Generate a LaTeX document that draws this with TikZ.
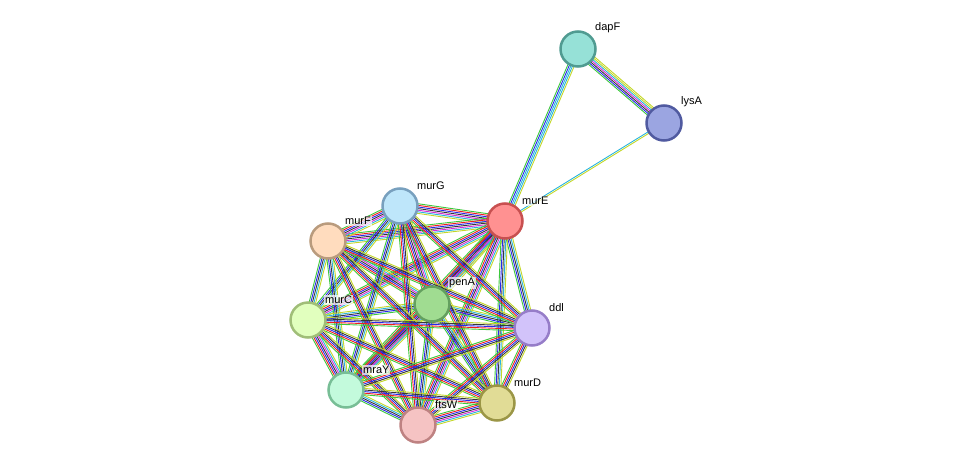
\documentclass[tikz,border=0pt]{standalone}
\usepackage{fontspec}
\setmainfont{Liberation Sans}
\usetikzlibrary{calc,backgrounds}
\definecolor{cg}{RGB}{60,200,60}
\definecolor{cr}{RGB}{240,30,30}
\definecolor{cb}{RGB}{40,40,235}
\definecolor{ck}{RGB}{55,55,55}
\definecolor{cm}{RGB}{215,40,215}
\definecolor{cc}{RGB}{40,180,220}
\definecolor{cy}{RGB}{195,215,40}
\def\sA{cg,cr,cb,ck,cm,cc,cy}
\def\sB{cg,cb,ck,cc,cy}
\def\sD{cg,cr,cb,ck,cy}
\def\sE{cg,cb,ck,cm,cc,cy,cy}
\def\sF{cg,cb,cc,cc,cy}
\def\sG{cc,cy}
\newcommand\sedge[4]{%
  \foreach \c [count=\i] in #4 {%
    \pgfmathsetmacro\o{(\i-(#3+1)/2)*1.6}
    \draw[color=\c,line width=0.9pt] ($(#1.center)!\o pt!90:(#2.center)$) -- ($(#2.center)!\o pt!-90:(#1.center)$);
  }}
\newcommand\prot[6]{%
  \definecolor{f#1}{RGB}{#4}\definecolor{b#1}{RGB}{#5}
  \node[prot,fill=f#1,draw=b#1] (#1) at (#2,#3) {};
  \node[lab,anchor=south west] (l#1) at (#2+16,#3-15) {#6};}
\tikzset{prot/.style={circle,minimum size=35pt,inner sep=0pt,line width=2.5pt},
  lab/.style={font=\fontsize{11}{13}\selectfont,inner sep=1pt,fill=white,fill opacity=0.7,text opacity=1}}
\begin{document}
\begin{tikzpicture}[x=1pt,y=-1pt]
\useasboundingbox (0,0) rectangle (976,471);
\prot{dapF}{578}{49}{150,225,215}{80,155,145}{dapF}
\prot{lysA}{664}{123}{155,165,225}{80,90,160}{lysA}
\prot{murE}{505}{221}{255,145,145}{200,80,80}{murE}
\prot{murG}{400}{206}{190,230,250}{120,160,190}{murG}
\prot{murF}{328}{241}{255,220,190}{185,155,125}{murF}
\prot{penA}{432}{304}{160,220,145}{100,160,95}{penA}
\prot{murC}{308}{320}{225,255,190}{160,190,120}{murC}
\prot{ddl}{532}{328}{210,195,250}{150,125,200}{ddl}
\prot{mraY}{346}{390}{195,250,220}{120,190,150}{mraY}
\prot{murD}{497}{403}{225,220,150}{155,150,70}{murD}
\prot{ftsW}{418}{425}{245,195,195}{190,130,130}{ftsW}
\begin{scope}[on background layer]
\sedge{dapF}{lysA}{7}{\sE}
\sedge{dapF}{murE}{5}{\sF}
\sedge{lysA}{murE}{2}{\sG}
\foreach \a/\b in {murE/murG,murE/murF,murE/penA,murE/murC,murE/mraY,murE/ftsW,murG/murF,murG/penA,murF/penA,penA/mraY,murC/mraY,murD/ftsW}
  {\sedge{\a}{\b}{7}{\sA}}
\foreach \a/\b in {murE/ddl,murE/murD,murG/murC,murG/mraY,murF/murC,murF/mraY,penA/ddl,penA/murD,penA/ftsW,mraY/ftsW,murC/penA}
  {\sedge{\a}{\b}{5}{\sB}}
\foreach \a/\b in {murG/ddl,murG/murD,murG/ftsW,murF/ddl,murF/murD,murF/ftsW,murC/ddl,murC/murD,murC/ftsW,ddl/mraY,ddl/murD,ddl/ftsW,mraY/murD}
  {\sedge{\a}{\b}{5}{\sD}}
\end{scope}
\end{tikzpicture}
\end{document}
